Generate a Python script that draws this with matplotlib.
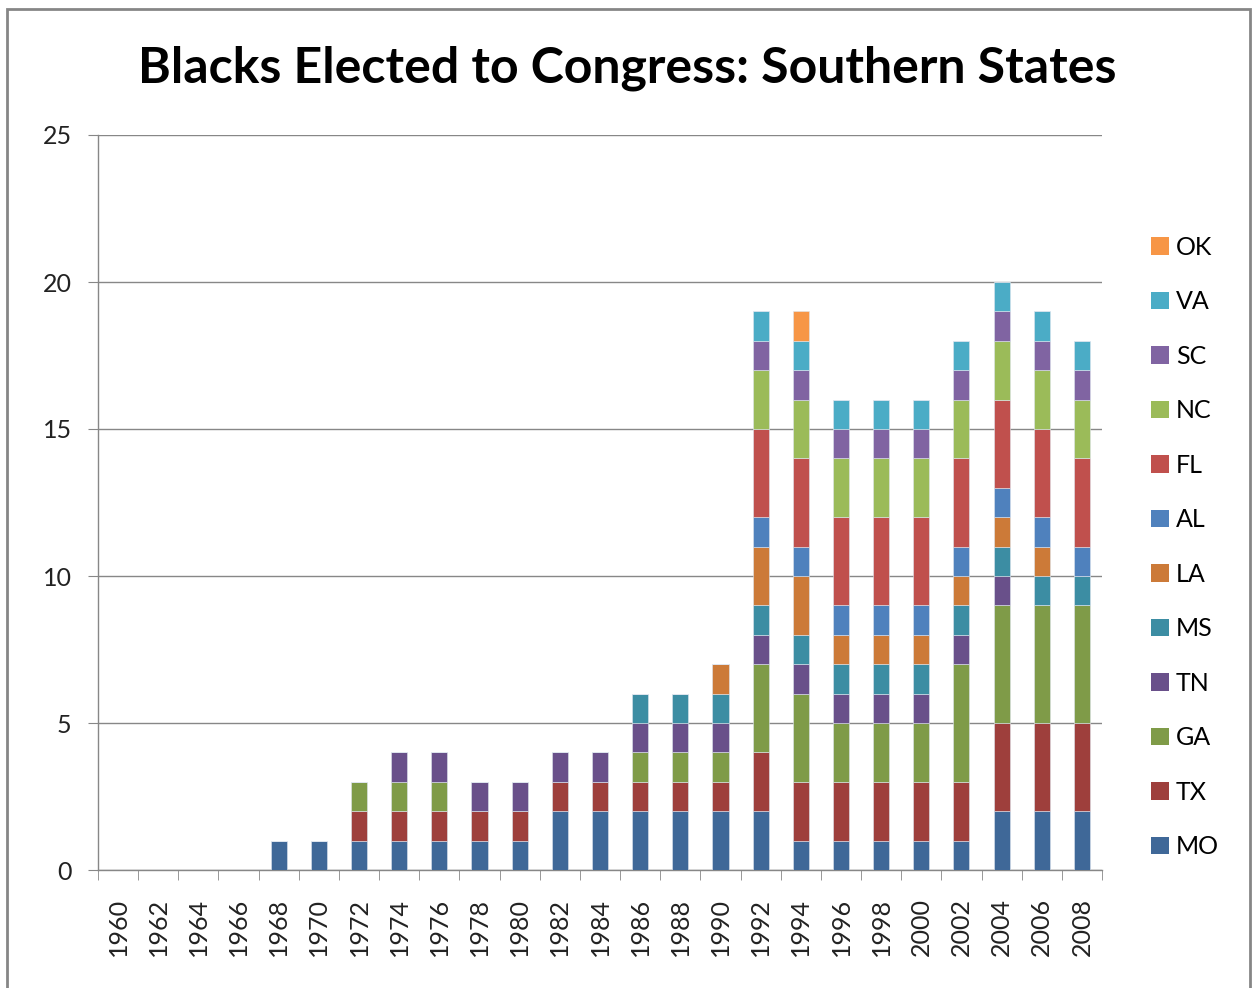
import matplotlib
matplotlib.use("Agg")
import matplotlib.pyplot as plt
from matplotlib.patches import Rectangle, Patch
import numpy as np

plt.rcParams['font.family'] = ['Lato', 'DejaVu Sans']

years = [str(y) for y in range(1960, 2009, 2)]
states = ["MO", "TX", "GA", "TN", "MS", "LA", "AL", "FL", "NC", "SC", "VA", "OK"]
#        1960 62 64 66 68 70 72 74 76 78 80 82 84 86 88 90 92 94 96 98 00 02 04 06 08
MO = [0, 0, 0, 0, 1, 1, 1, 1, 1, 1, 1, 2, 2, 2, 2, 2, 2, 1, 1, 1, 1, 1, 2, 2, 2]
TX = [0, 0, 0, 0, 0, 0, 1, 1, 1, 1, 1, 1, 1, 1, 1, 1, 2, 2, 2, 2, 2, 2, 3, 3, 3]
GA = [0, 0, 0, 0, 0, 0, 1, 1, 1, 0, 0, 0, 0, 1, 1, 1, 3, 3, 2, 2, 2, 4, 4, 4, 4]
TN = [0, 0, 0, 0, 0, 0, 0, 1, 1, 1, 1, 1, 1, 1, 1, 1, 1, 1, 1, 1, 1, 1, 1, 0, 0]
MS = [0, 0, 0, 0, 0, 0, 0, 0, 0, 0, 0, 0, 0, 1, 1, 1, 1, 1, 1, 1, 1, 1, 1, 1, 1]
LA = [0, 0, 0, 0, 0, 0, 0, 0, 0, 0, 0, 0, 0, 0, 0, 1, 2, 2, 1, 1, 1, 1, 1, 1, 0]
AL = [0, 0, 0, 0, 0, 0, 0, 0, 0, 0, 0, 0, 0, 0, 0, 0, 1, 1, 1, 1, 1, 1, 1, 1, 1]
FL = [0, 0, 0, 0, 0, 0, 0, 0, 0, 0, 0, 0, 0, 0, 0, 0, 3, 3, 3, 3, 3, 3, 3, 3, 3]
NC = [0, 0, 0, 0, 0, 0, 0, 0, 0, 0, 0, 0, 0, 0, 0, 0, 2, 2, 2, 2, 2, 2, 2, 2, 2]
SC = [0, 0, 0, 0, 0, 0, 0, 0, 0, 0, 0, 0, 0, 0, 0, 0, 1, 1, 1, 1, 1, 1, 1, 1, 1]
VA = [0, 0, 0, 0, 0, 0, 0, 0, 0, 0, 0, 0, 0, 0, 0, 0, 1, 1, 1, 1, 1, 1, 1, 1, 1]
OK = [0, 0, 0, 0, 0, 0, 0, 0, 0, 0, 0, 0, 0, 0, 0, 0, 0, 1, 0, 0, 0, 0, 0, 0, 0]
series = [MO, TX, GA, TN, MS, LA, AL, FL, NC, SC, VA, OK]
colors = ["#3F6898", "#9E3F3C", "#7F9B48", "#69508A", "#3C8DA3", "#CC7A38",
          "#4F81BD", "#C0504D", "#9BBB59", "#8064A2", "#4BACC6", "#F79646"]

W, H = 1259, 988
fig = plt.figure(figsize=(W / 100, H / 100), dpi=100)
fig.patches.append(Rectangle((7 / W, 1 - 1000 / H), 1243 / W, 991 / H,
                             transform=fig.transFigure, fill=False,
                             edgecolor="#868686", linewidth=2, clip_on=False))

ax = fig.add_axes([98 / W, 1 - 870 / H, (1102 - 98) / W, (870 - 135) / H])
x = np.arange(len(years))
bottom = np.zeros(len(years))
for vals, c, name in zip(series, colors, states):
    v = np.array(vals, dtype=float)
    ax.bar(x, v, width=0.4, bottom=bottom, color=c, edgecolor="#dfe6ef",
           linewidth=0.4, label=name, zorder=3)
    bottom += v

ax.set_xlim(-0.5, len(years) - 0.5)
ax.set_ylim(0, 25)
ax.set_yticks([0, 5, 10, 15, 20, 25])
ax.yaxis.grid(True, color="#878787", linewidth=1.0, zorder=0)
ax.set_axisbelow(True)
for s in ["top", "right"]:
    ax.spines[s].set_visible(False)
for s in ["left", "bottom"]:
    ax.spines[s].set_color("#878787")
    ax.spines[s].set_linewidth(1.0)
ax.tick_params(axis="y", direction="out", length=7, color="#878787",
               labelsize=18, pad=12, labelcolor="#222222")
ax.set_xticks(x)
ax.set_xticklabels(years, rotation=90, fontsize=18, color="#222222")
ax.tick_params(axis="x", which="major", length=0, pad=20)
ax.set_xticks(np.arange(-0.5, len(years)), minor=True)
ax.tick_params(axis="x", which="minor", direction="out", length=7,
               color="#878787")

fig.text(627 / W, 1 - 68 / H, "Blacks Elected to Congress: Southern States",
         ha="center", va="center", fontsize=36, fontweight="bold", color="black")

handles = [Patch(facecolor=c, edgecolor="none") for c in colors][::-1]
labels = states[::-1]
fig.legend(handles, labels, loc="center left",
           bbox_to_anchor=(1141 / W, 1 - 547 / H), frameon=False,
           fontsize=18, labelspacing=1.26, handlelength=0.7, handleheight=0.7,
           handletextpad=0.3, borderaxespad=0)

fig.savefig("out.png", dpi=100)
